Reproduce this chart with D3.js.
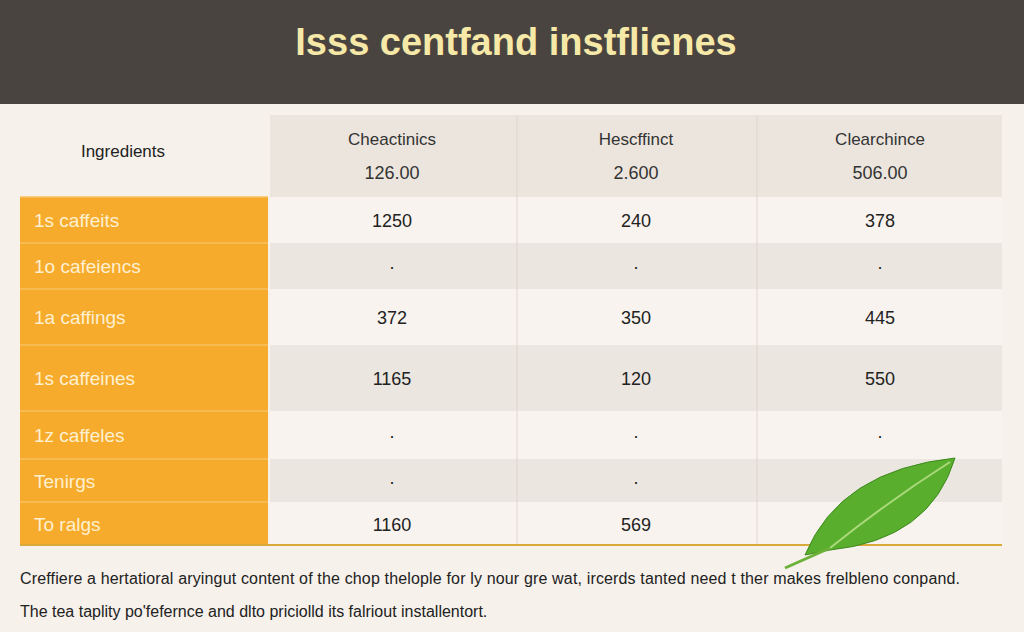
<!DOCTYPE html>
<html><head><meta charset="utf-8">
<script src="https://cdn.jsdelivr.net/npm/d3@7"></script>
<style>body{margin:0;background:#f6f1eb}</style></head>
<body><svg id="c" width="1024" height="632"></svg>
<script>
const title = "Isss centfand instflienes";
const columns = ["Cheactinics", "Hescffinct", "Clearchince"];
const columnTotals = ["126.00", "2.600", "506.00"];
const rows = ["1s caffeits", "1o cafeiencs", "1a caffings", "1s caffeines", "1z caffeles", "Tenirgs", "To ralgs"];
const rowBounds = [197, 243, 289, 345, 411, 459, 502, 545];
const colA = ["1250", "·", "372", "1165", "·", "·", "1160"];
const colB = ["240", "·", "350", "120", "·", "·", "569"];
const colC = ["378", "·", "445", "550", "·", "·", ""];
const notes = ["Creffiere a hertatioral aryingut content of the chop thelople for ly nour gre wat, ircerds tanted need t ther makes frelbleno conpand.",
  "The tea taplity po'fefernce and dlto priciolld its falriout installentort."];

const svg = d3.select("#c");
const font = "'Liberation Sans', Arial, sans-serif";
svg.append("rect").attr("width",1024).attr("height",632).attr("fill","#f6f1eb");
svg.append("rect").attr("width",1024).attr("height",104).attr("fill","#4a4440");
svg.append("text").attr("x",516).attr("y",55).attr("text-anchor","middle").attr("font-family",font)
  .attr("font-weight","bold").attr("font-size",38).attr("fill","#f6e9a8").text(title);

const x = d3.scaleBand().domain(d3.range(3)).range([270,1002]);
svg.append("rect").attr("x",270).attr("y",115).attr("width",732).attr("height",82).attr("fill","#ebe5de");
svg.append("text").attr("x",123).attr("y",157).attr("text-anchor","middle").attr("font-family",font)
  .attr("font-size",17).attr("fill","#222").text("Ingredients");
columns.forEach((c,i)=>{
  const cx = x(i)+x.bandwidth()/2;
  svg.append("text").attr("x",cx).attr("y",145).attr("text-anchor","middle").attr("font-family",font).attr("font-size",17).attr("fill","#333").text(c);
  svg.append("text").attr("x",cx).attr("y",179).attr("text-anchor","middle").attr("font-family",font).attr("font-size",18).attr("fill","#333").text(columnTotals[i]);
});
const vals=[colA,colB,colC];
rows.forEach((r,j)=>{
  const y0=rowBounds[j], y1=rowBounds[j+1], cy=(y0+y1)/2;
  svg.append("rect").attr("x",270).attr("y",y0).attr("width",732).attr("height",y1-y0)
    .attr("fill", j%2? "#ebe6e0":"#f8f3ee");
  svg.append("rect").attr("x",20).attr("y",y0).attr("width",248).attr("height",y1-y0).attr("fill","#f6ab2c");
  svg.append("line").attr("x1",20).attr("x2",268).attr("y1",y0).attr("y2",y0).attr("stroke","#f8c060").attr("stroke-width",1.5);
  svg.append("text").attr("x",34).attr("y",cy+7).attr("font-family",font).attr("font-size",19).attr("fill","#fff0d0").text(r);
  vals.forEach((col,i)=>{
    svg.append("text").attr("x",x(i)+x.bandwidth()/2).attr("y",cy+7).attr("text-anchor","middle").attr("font-family",font)
      .attr("font-size",18).attr("fill","#222").text(col[j]);
  });
});
[517,757].forEach(v=>svg.append("line").attr("x1",v).attr("x2",v).attr("y1",115).attr("y2",545).attr("stroke","#ddd6cf"));
svg.append("line").attr("x1",20).attr("x2",1002).attr("y1",545).attr("y2",545).attr("stroke","#d9a93a").attr("stroke-width",2);
const g=svg.append("g");
g.append("path").attr("d","M805,555 Q840,470 955,458 Q930,540 830,550 Z").attr("fill","#5aae2e").attr("stroke","#3d8a1e");
g.append("path").attr("d","M830,548 Q890,500 950,462").attr("stroke","#a9d97a").attr("fill","none").attr("stroke-width",2);
g.append("path").attr("d","M830,548 L785,568").attr("stroke","#6cb13a").attr("stroke-width",3);
notes.forEach((n,i)=>svg.append("text").attr("x",20).attr("y",584+i*33).attr("font-family",font)
  .attr("font-size",16).attr("textLength", i===0?940:null).attr("fill","#222").text(n));
</script></body></html>
